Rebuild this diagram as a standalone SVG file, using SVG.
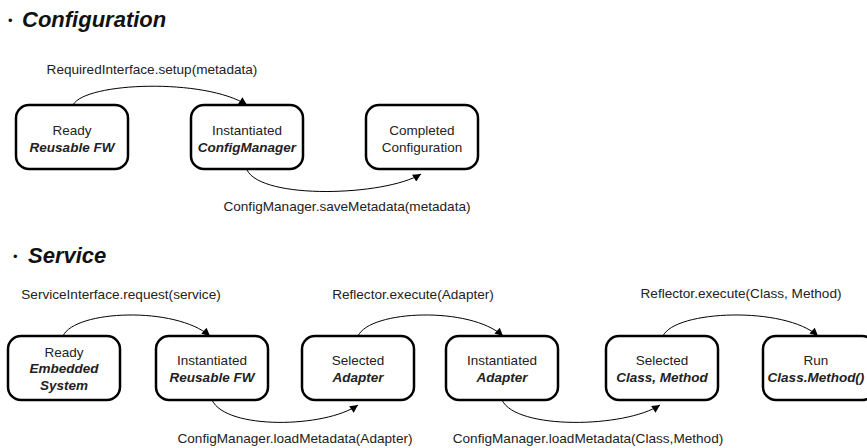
<svg xmlns="http://www.w3.org/2000/svg" width="867" height="448" viewBox="0 0 867 448">
<style>
text{font-family:"Liberation Sans",Arial,sans-serif;fill:#222}
.title{font-size:22px;font-weight:bold;font-style:italic;fill:#111}
.bul{font-size:13px;fill:#111}
.lbl{font-size:13.6px;text-anchor:middle}
.nt{font-size:13.5px;text-anchor:middle}
.bi{font-weight:bold;font-style:italic}
.box{fill:#fff;stroke:#000;stroke-width:2.5}
.arc{fill:none;stroke:#000;stroke-width:1}
</style>
<defs>
<marker id="ah" viewBox="0 0 10 10" refX="10" refY="5" markerWidth="9" markerHeight="8" markerUnits="userSpaceOnUse" orient="auto">
<path d="M0,0 L10,5 L0,10 z" fill="#000"/>
</marker>
</defs>
<text class="bul" x="8" y="25">•</text>
<text class="title" x="22" y="27">Configuration</text>
<text class="bul" x="13" y="261">•</text>
<text class="title" x="28" y="263">Service</text>

<g id="connectors">
<path class="arc" d="M73,105 C85,82 205,78 247,105" marker-end="url(#ah)"/>
<path class="arc" d="M247,170 C262,200 385,196 421,174" marker-end="url(#ah)"/>
<path class="arc" d="M63,336 C75,310 175,306 210,336" marker-end="url(#ah)"/>
<path class="arc" d="M212,400 C226,430 325,428 358,405" marker-end="url(#ah)"/>
<path class="arc" d="M358,336 C370,310 470,306 503,336" marker-end="url(#ah)"/>
<path class="arc" d="M502,400 C516,430 625,428 660,405" marker-end="url(#ah)"/>
<path class="arc" d="M663,336 C675,310 785,306 818,336" marker-end="url(#ah)"/>
<text class="lbl" x="152" y="74">RequiredInterface.setup(metadata)</text>
<text class="lbl" x="347" y="211">ConfigManager.saveMetadata(metadata)</text>
<text class="lbl" x="121" y="299">ServiceInterface.request(service)</text>
<text class="lbl" x="413" y="299">Reflector.execute(Adapter)</text>
<text class="lbl" x="741" y="298">Reflector.execute(Class, Method)</text>
<text class="lbl" x="295" y="443">ConfigManager.loadMetadata(Adapter)</text>
<text class="lbl" x="588" y="443">ConfigManager.loadMetadata(Class,Method)</text>
</g>

<g id="c1"><rect class="box" x="16" y="105" width="112" height="64" rx="13"/>
<text class="nt" x="72" y="135">Ready</text><text class="nt bi" x="72" y="152">Reusable FW</text></g>
<g id="c2"><rect class="box" x="191" y="105" width="112" height="64" rx="13"/>
<text class="nt" x="247" y="135">Instantiated</text><text class="nt bi" x="247" y="152">ConfigManager</text></g>
<g id="c3"><rect class="box" x="366" y="105" width="112" height="64" rx="13"/>
<text class="nt" x="422" y="135">Completed</text><text class="nt" x="422" y="152">Configuration</text></g>

<g id="s1"><rect class="box" x="8" y="336" width="112" height="64" rx="13"/>
<text class="nt" x="64" y="357">Ready</text><text class="nt bi" x="64" y="373">Embedded</text><text class="nt bi" x="64" y="390">System</text></g>
<g id="s2"><rect class="box" x="156" y="336" width="112" height="64" rx="13"/>
<text class="nt" x="212" y="365">Instantiated</text><text class="nt bi" x="212" y="382">Reusable FW</text></g>
<g id="s3"><rect class="box" x="302" y="336" width="112" height="64" rx="13"/>
<text class="nt" x="358" y="365">Selected</text><text class="nt bi" x="358" y="382">Adapter</text></g>
<g id="s4"><rect class="box" x="446" y="336" width="112" height="64" rx="13"/>
<text class="nt" x="502" y="365">Instantiated</text><text class="nt bi" x="502" y="382">Adapter</text></g>
<g id="s5"><rect class="box" x="606" y="336" width="112" height="64" rx="13"/>
<text class="nt" x="662" y="365">Selected</text><text class="nt bi" x="662" y="382">Class, Method</text></g>
<g id="s6"><rect class="box" x="763" y="336" width="112" height="64" rx="13"/>
<text class="nt" x="816" y="365">Run</text><text class="nt bi" x="816" y="382">Class.Method()</text></g>
</svg>
